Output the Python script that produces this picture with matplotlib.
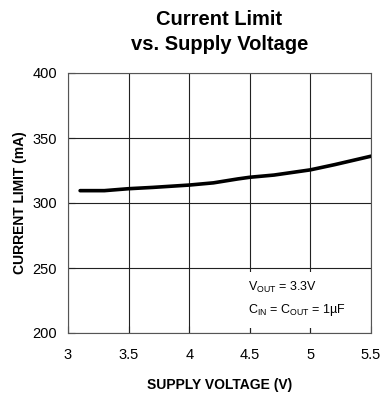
import matplotlib

matplotlib.use("Agg")
import matplotlib.pyplot as plt
from matplotlib.patches import Rectangle

plt.rcParams["font.family"] = ["Liberation Sans", "DejaVu Sans"]
plt.rcParams["mathtext.fontset"] = "custom"
plt.rcParams["mathtext.rm"] = "Liberation Sans"

# data
vin = [3.1, 3.3, 3.5, 3.7, 4.0, 4.2, 4.4, 4.5, 4.7, 5.0, 5.2, 5.5]
ilim = [309.5, 309.5, 311.0, 312.0, 313.8, 315.5, 318.5, 319.8, 321.5, 325.5, 329.5, 336.0]
xticks = [3, 3.5, 4, 4.5, 5, 5.5]
xticklabels = ["3", "3.5", "4", "4.5", "5", "5.5"]
yticks = [200, 250, 300, 350, 400]

fig = plt.figure(figsize=(3.8, 3.98), dpi=100)
ax = fig.add_axes([68 / 380, 1 - 333 / 398, (371 - 68) / 380, (333 - 73) / 398])

ax.plot(vin, ilim, color="black", linewidth=2.6, solid_capstyle="round", zorder=3)
ax.set_xlim(3, 5.5)
ax.set_ylim(200, 400)
ax.set_xticks(xticks)
ax.set_xticklabels(xticklabels)
ax.set_yticks(yticks)
ax.grid(True, color="#222222", linewidth=0.8)
ax.tick_params(direction="in", length=5, labelsize=10.5, color="#222222")
ax.tick_params(axis="x", pad=11)
ax.tick_params(axis="y", pad=8)
for s in ax.spines.values():
    s.set_linewidth(0.8)
    s.set_color("#555555")

ax.set_xlabel("SUPPLY VOLTAGE (V)", fontsize=10, fontweight="bold", labelpad=11)
ax.set_ylabel("CURRENT LIMIT (mA)", fontsize=10, fontweight="bold", labelpad=4)
fig.suptitle("Current Limit\nvs. Supply Voltage", fontsize=14.5, fontweight="bold",
             x=(68 + 371) / 2 / 380, y=0.975, linespacing=1.4)

# white panel behind the conditions, covering the grid
ax.add_patch(Rectangle((0.568, 0.02), 0.42, 0.215, transform=ax.transAxes,
                       facecolor="white", edgecolor="none", zorder=2.5))
ax.text(0.595, 0.175, "V$_{\\mathregular{OUT}}$ = 3.3V", transform=ax.transAxes,
        fontsize=9, va="center", ha="left", zorder=4)
ax.text(0.595, 0.09, "C$_{\\mathregular{IN}}$ = C$_{\\mathregular{OUT}}$ = 1\u00b5F",
        transform=ax.transAxes, fontsize=9, va="center", ha="left", zorder=4)

fig.savefig("out.png", dpi=100)
